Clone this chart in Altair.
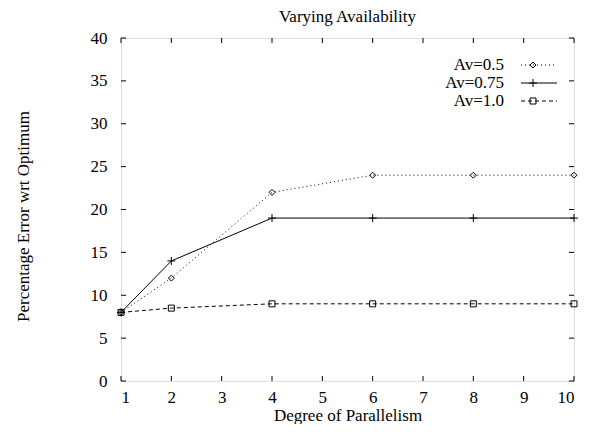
import altair as alt
import pandas as pd

# ---- data ----
x_vals = [1, 2, 4, 6, 8, 10]
av05 = [8, 12, 22, 24, 24, 24]
av075 = [8, 14, 19, 19, 19, 19]
av10 = [8, 8.5, 9, 9, 9, 9]
series_names = ["Av=0.5", "Av=0.75", "Av=1.0"]
series_values = [av05, av075, av10]
x_ticks = [1, 2, 3, 4, 5, 6, 7, 8, 9, 10]
y_ticks = [0, 5, 10, 15, 20, 25, 30, 35, 40]
chart_title = ["Varying Availability"]

W, H = 453, 343
FONT = "Liberation Serif"
FS = 17
PLUS = "M-1,0L1,0M0,-1L0,1"

styles = [
    {"dash": [1, 3], "shape": "diamond", "size": 36},
    {"dash": None, "shape": PLUS, "size": 64},
    {"dash": [4, 3], "shape": "square", "size": 36},
]

xs = alt.Scale(domain=[1, 10], nice=False, zero=False)
ys = alt.Scale(domain=[0, 40], nice=False, zero=False)

x_axis = alt.Axis(values=x_ticks, format="d", ticks=False, tickSize=0, domain=False,
                  grid=False, labelFont=FONT, labelFontSize=FS, labelColor="black",
                  labelPadding=8, titleFont=FONT, titleFontSize=FS,
                  titleFontWeight="normal", titleColor="black", titleY=39,
                  titleBaseline="alphabetic")
y_axis = alt.Axis(values=y_ticks, format="d", ticks=False, tickSize=0, domain=False,
                  grid=False, labelFont=FONT, labelFontSize=FS, labelColor="black",
                  labelPadding=14, titleFont=FONT, titleFontSize=FS,
                  titleFontWeight="normal", titleColor="black", titleX=-98,
                  titleY=178, titleBaseline="middle")

X = alt.X("x:Q", scale=xs, axis=x_axis, title="Degree of Parallelism")
Y = alt.Y("y:Q", scale=ys, axis=y_axis, title="Percentage Error wrt Optimum")

layers = []
for name, vals, st in zip(series_names, series_values, styles):
    df = pd.DataFrame({"x": x_vals, "y": vals, "series": name})
    line_kw = {"color": "black", "strokeWidth": 1}
    if st["dash"]:
        line_kw["strokeDash"] = st["dash"]
    layers.append(alt.Chart(df).mark_line(**line_kw).encode(x=X, y=Y))
    layers.append(alt.Chart(df).mark_point(shape=st["shape"], size=st["size"],
                                           filled=False, color="black",
                                           strokeWidth=1, opacity=1).encode(x=X, y=Y))

# inward ticks on all four sides
xt = pd.DataFrame({"x": x_ticks})
yt = pd.DataFrame({"y": y_ticks})
layers.append(alt.Chart(xt).mark_rule(color="black", strokeWidth=1).encode(
    x=X, y=alt.value(H), y2=alt.value(H - 5)))
layers.append(alt.Chart(xt).mark_rule(color="black", strokeWidth=1).encode(
    x=X, y=alt.value(0), y2=alt.value(5)))
layers.append(alt.Chart(yt).mark_rule(color="black", strokeWidth=1).encode(
    y=Y, x=alt.value(0), x2=alt.value(5)))
layers.append(alt.Chart(yt).mark_rule(color="black", strokeWidth=1).encode(
    y=Y, x=alt.value(W), x2=alt.value(W - 5)))

# key, top right inside the plot
for i, (name, st) in enumerate(zip(series_names, styles)):
    ky = 27 + 18 * i
    kd = pd.DataFrame({"label": [name]})
    layers.append(alt.Chart(kd).mark_text(align="right", baseline="middle", font=FONT,
                                          fontSize=FS, color="black").encode(
        text="label:N", x=alt.value(383), y=alt.value(ky)))
    rule_kw = {"color": "black", "strokeWidth": 1}
    if st["dash"]:
        rule_kw["strokeDash"] = st["dash"]
    layers.append(alt.Chart(kd).mark_rule(**rule_kw).encode(
        x=alt.value(400), x2=alt.value(436), y=alt.value(ky)))
    layers.append(alt.Chart(kd).mark_point(shape=st["shape"], size=st["size"],
                                           filled=False, color="black",
                                           strokeWidth=1, opacity=1).encode(
        x=alt.value(412), y=alt.value(ky)))

# chart title as a text mark above the plot
td = pd.DataFrame({"t": chart_title})
layers.append(alt.Chart(td).mark_text(align="center", baseline="alphabetic", font=FONT,
                                      fontSize=FS, color="black").encode(
    text="t:N", x=alt.value(W / 2), y=alt.value(-16)))

chart = alt.layer(*layers).properties(
    width=W, height=H,
    autosize=alt.AutoSizeParams(type="none"),
    padding={"left": 113, "top": 30, "right": 12, "bottom": 43},
).configure_view(stroke="black", strokeWidth=1).configure(background="white")

chart.save("out.html", embed_options={"renderer": "svg", "actions": False})
